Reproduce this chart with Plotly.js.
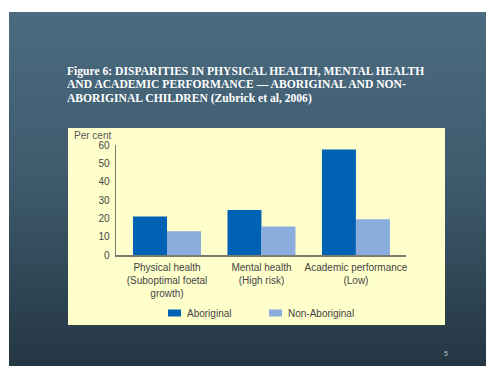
<!DOCTYPE html>
<html>
<head>
<meta charset="utf-8">
<script src="https://cdn.plot.ly/plotly-3.0.1.min.js"></script>
<style>
  html, body { margin: 0; padding: 0; background: #ffffff; }
  #slide { position: absolute; left: 9px; top: 12px; width: 477px; height: 354px;
           background: linear-gradient(to bottom, #4b6b80 0%, #3f5c6e 45%, #243642 100%); }
  #chart { position: absolute; left: 0; top: 0; width: 486px; height: 366px; }
</style>
</head>
<body>
<div id="slide"></div>
<div id="chart"></div>
<script>
// Data
const categories = [
  "Physical health<br>(Suboptimal foetal<br>growth)",
  "Mental health<br>(High risk)",
  "Academic performance<br>(Low)"
];
const aboriginal = [21, 24.5, 57.5];
const nonAboriginal = [13, 15.5, 19.5];
const seriesNames = ["Aboriginal", "Non-Aboriginal"];
const seriesColors = ["#0062b5", "#8badde"];
const yTicks = [0, 10, 20, 30, 40, 50, 60];
const titleLines = [
  "Figure 6: DISPARITIES IN PHYSICAL HEALTH, MENTAL HEALTH",
  "AND ACADEMIC PERFORMANCE \u2014 ABORIGINAL AND NON-",
  "ABORIGINAL CHILDREN (Zubrick et al, 2006)"
];

const W = 486, H = 366;
const font = "'Liberation Sans', Arial, sans-serif";
// pixel -> paper helpers (plot area: x 116..406, y 145..255)
const px = v => (v - 116) / 290;
const py = v => (255 - v) / 110;

const traces = [
  { type: "bar", name: seriesNames[0], x: [0,1,2], y: aboriginal,
    marker: { color: seriesColors[0] }, hoverinfo: "skip", showlegend: false },
  { type: "bar", name: seriesNames[1], x: [0,1,2], y: nonAboriginal,
    marker: { color: seriesColors[1] }, hoverinfo: "skip", showlegend: false }
];

const annotations = titleLines.map((t, i) => ({
  text: t, xref: "paper", yref: "paper", showarrow: false,
  x: px(65), xanchor: "left",
  y: py(71.3 + i * 13.5), yanchor: "middle",
  font: { family: "'Liberation Serif', 'Times New Roman', serif", size: 11.6, color: "#ffffff", weight: "bold" }
}));
annotations.push({
  text: "Per cent", xref: "paper", yref: "paper", showarrow: false,
  x: px(72), xanchor: "left", y: py(135), yanchor: "middle",
  font: { family: font, size: 10, color: "#555555" }
});
annotations.push({
  text: "5", xref: "paper", yref: "paper", showarrow: false,
  x: px(446), xanchor: "center", y: py(353), yanchor: "middle",
  font: { family: font, size: 7, color: "#b8c4cc" }
});

// Custom legend (swatch + label) built from the series arrays
const legendX = [168, 269];
const shapes = [
  { type: "rect", xref: "paper", yref: "paper", layer: "below",
    x0: px(68), x1: px(445), y0: py(325), y1: py(128),
    fillcolor: "#ffffcc", line: { width: 0 } }
];
seriesNames.forEach((n, i) => {
  shapes.push({ type: "rect", xref: "paper", yref: "paper",
    x0: px(legendX[i]), x1: px(legendX[i] + 13), y0: py(316.5), y1: py(309.5),
    fillcolor: seriesColors[i], line: { width: 0 } });
  annotations.push({ text: n, xref: "paper", yref: "paper", showarrow: false,
    x: px(legendX[i] + 17), xanchor: "left", y: py(313), yanchor: "middle",
    font: { family: font, size: 10, color: "#444444" } });
});

const layout = {
  width: W, height: H,
  margin: { l: 116, r: 80, t: 145, b: 111, pad: 0 },
  paper_bgcolor: "rgba(0,0,0,0)",
  plot_bgcolor: "rgba(0,0,0,0)",
  barmode: "group", bargap: 0.28, bargroupgap: 0,
  showlegend: false,
  xaxis: { range: [-0.54, 2.53], tickmode: "array", tickvals: [0,1,2], ticktext: categories,
           showgrid: false, zeroline: false, showline: true, linecolor: "#7a7a70", linewidth: 1.5,
           ticks: "", ticklabelstandoff: 2, tickfont: { family: font, size: 10, color: "#444444" } },
  yaxis: { range: [0, 60], tickmode: "array", tickvals: yTicks, showgrid: false, zeroline: false,
           showline: true, linecolor: "#7a7a70", linewidth: 1.5, ticks: "", ticklabelstandoff: 3,
           tickfont: { family: font, size: 10, color: "#444444" } },
  shapes: shapes,
  annotations: annotations
};

Plotly.newPlot("chart", traces, layout, { staticPlot: true, displayModeBar: false });
</script>
</body>
</html>
